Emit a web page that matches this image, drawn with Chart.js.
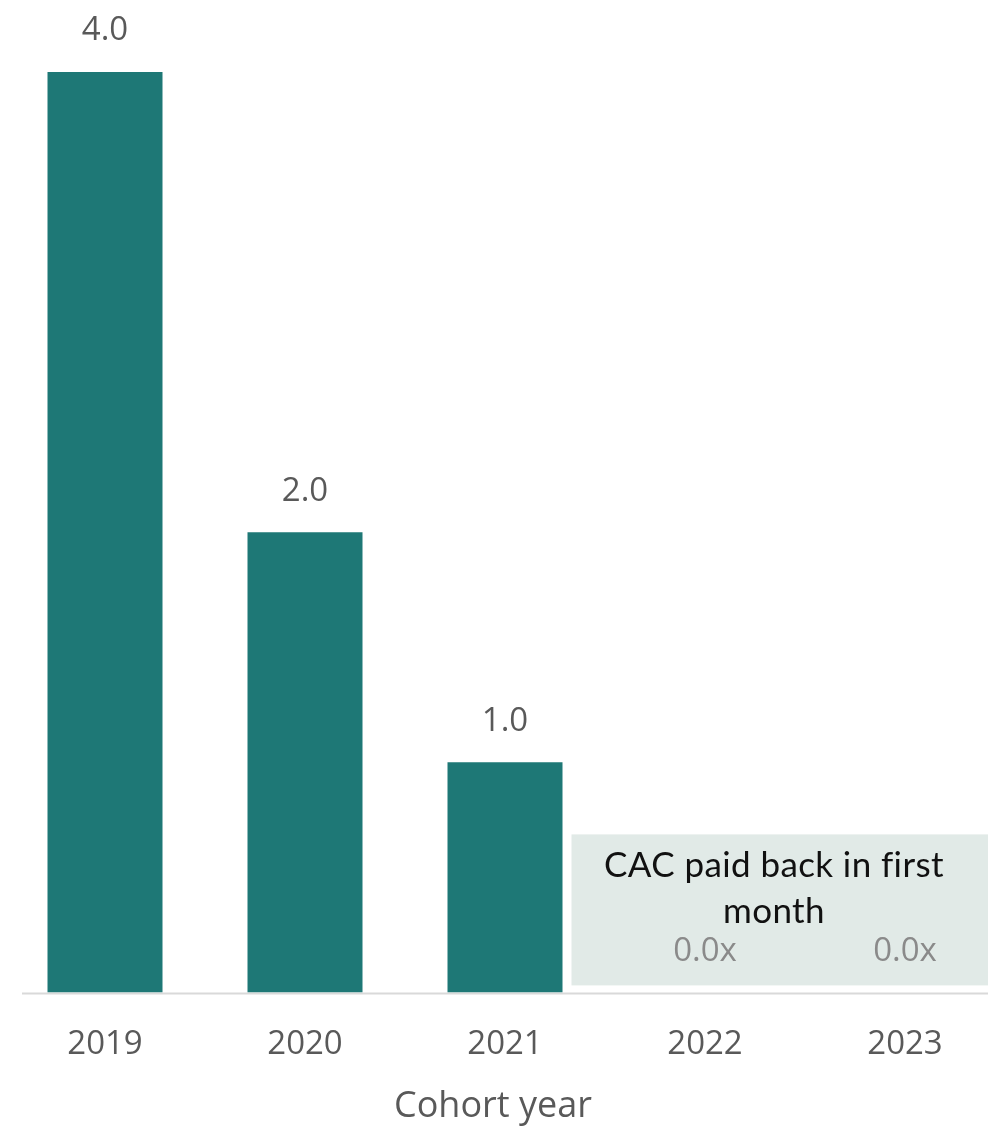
<!DOCTYPE html>
<html>
<head>
<meta charset="utf-8">
<script src="https://cdn.jsdelivr.net/npm/chart.js@4.4.1/dist/chart.umd.min.js"></script>
<style>
    html, body { margin: 0; padding: 0; background: #fff; overflow: hidden; }
    #wrap { width: 988px; height: 1130px; overflow: hidden; }
</style>
</head>
<body>
<div id="wrap"><canvas id="paybackChart" width="1010" height="1130"></canvas></div>
<script>
const cohortYears = ['2019', '2020', '2021', '2022', '2023'];
const paybackMultiple = [4.0, 2.0, 1.0, 0.0, 0.0];
const noteLines = ['CAC paid back in first', 'month'];
const axisTitle = 'Cohort year';

const tealColor = '#1e7876';
const labelGrey = '#595959';

// light panel behind the two empty cohorts, plus the baseline
const notePanel = {
    id: 'notePanel',
    beforeDatasetsDraw(chart) {
        const { ctx, scales } = chart;
        const bars = chart.getDatasetMeta(0).data;
        const yZero = scales.y.getPixelForValue(0);
        const left = bars[2].x + bars[2].width / 2 + 9;
        ctx.save();
        ctx.fillStyle = '#e1eae7';
        ctx.fillRect(left, yZero - 158, chart.width - left, 151);

        ctx.fillStyle = '#111111';
        ctx.font = "35px 'Lato', sans-serif";
        ctx.letterSpacing = '0.4px'; // also keeps "fi" from joining
        ctx.textAlign = 'center';
        ctx.textBaseline = 'alphabetic';
        const cx = (bars[3].x + bars[4].x) / 2 - 31;
        ctx.fillText(noteLines[0], cx, yZero - 115);
        ctx.fillText(noteLines[1], cx, yZero - 69);
        ctx.letterSpacing = '0px';

        ctx.strokeStyle = '#d9d9d9';
        ctx.lineWidth = 2;
        ctx.beginPath();
        ctx.moveTo(22, yZero + 1);
        ctx.lineTo(chart.width, yZero + 1);
        ctx.stroke();
        ctx.restore();
    }
};

// value labels above each bar, axis title under the years
const valueLabels = {
    id: 'valueLabels',
    afterDatasetsDraw(chart) {
        const { ctx } = chart;
        ctx.save();
        ctx.font = "33px 'Open Sans', sans-serif";
        ctx.textAlign = 'center';
        ctx.textBaseline = 'middle';
        chart.getDatasetMeta(0).data.forEach((bar, i) => {
            const v = paybackMultiple[i];
            ctx.fillStyle = v > 0 ? labelGrey : '#8a8a8a';
            const text = v > 0 ? v.toFixed(1) : v.toFixed(1) + 'x';
            ctx.fillText(text, bar.x, bar.y - 41);
        });
        ctx.restore();
    },
    afterDraw(chart) {
        const { ctx } = chart;
        const bars = chart.getDatasetMeta(0).data;
        ctx.save();
        ctx.font = "36px 'Open Sans', sans-serif";
        ctx.fillStyle = labelGrey;
        ctx.textAlign = 'center';
        ctx.textBaseline = 'middle';
        ctx.fillText(axisTitle, bars[2].x - 12, chart.scales.y.getPixelForValue(0) + 114);
        ctx.restore();
    }
};

new Chart(document.getElementById('paybackChart'), {
    type: 'bar',
    data: {
        labels: cohortYears,
        datasets: [{
            data: paybackMultiple,
            backgroundColor: tealColor,
            borderWidth: 0,
            barPercentage: 0.575,
            categoryPercentage: 1
        }]
    },
    options: {
        responsive: false,
        animation: false,
        layout: { padding: { top: 3, left: 5, right: 5, bottom: 34 } },
        plugins: {
            legend: { display: false },
            tooltip: { enabled: false }
        },
        scales: {
            x: {
                grid: { display: false, drawTicks: false },
                border: { display: false },
                ticks: {
                    color: labelGrey,
                    padding: 32,
                    font: { family: "'Open Sans', sans-serif", size: 33 }
                }
            },
            y: {
                display: false,
                min: 0,
                max: 4.3
            }
        }
    },
    plugins: [notePanel, valueLabels]
});
</script>
</body>
</html>
